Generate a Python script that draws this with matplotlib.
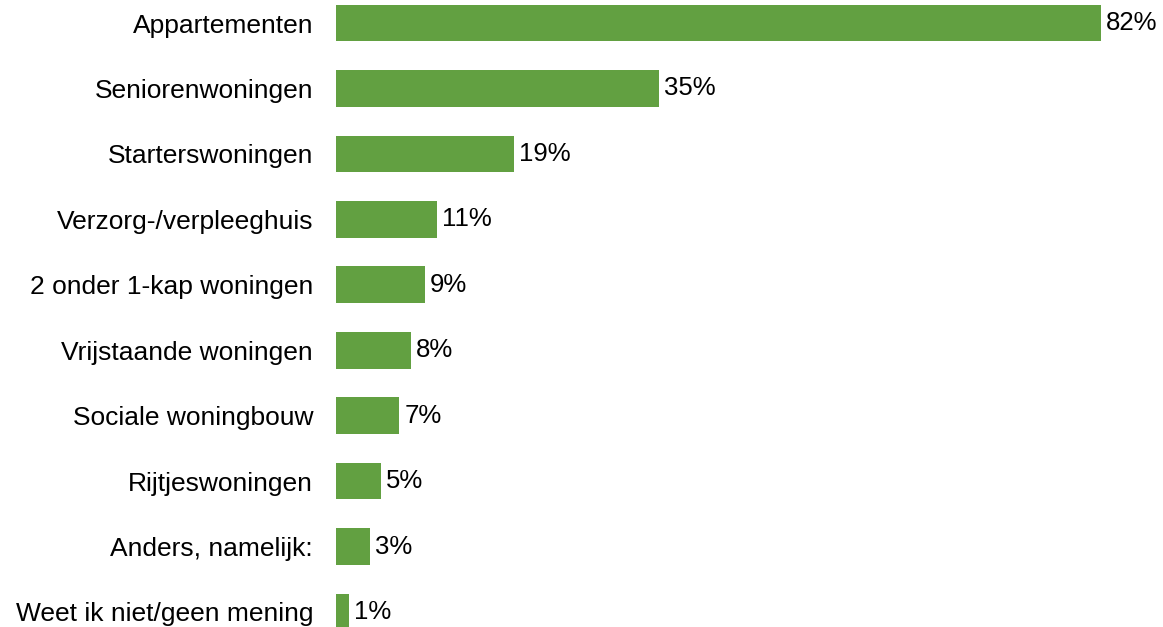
import matplotlib
matplotlib.use("Agg")
import matplotlib.pyplot as plt

# categories and percentages, top to bottom
categories = [
    "Appartementen",
    "Seniorenwoningen",
    "Starterswoningen",
    "Verzorg-/verpleeghuis",
    "2 onder 1-kap woningen",
    "Vrijstaande woningen",
    "Sociale woningbouw",
    "Rijtjeswoningen",
    "Anders, namelijk:",
    "Weet ik niet/geen mening",
]
values = [82, 35, 19, 11, 9, 8, 7, 5, 3, 1]
bar_lengths = [82, 34.6, 19.1, 10.8, 9.5, 8.0, 6.8, 4.8, 3.6, 1.4]

plt.rcParams['font.family'] = ['Liberation Sans', 'DejaVu Sans']

fig = plt.figure(figsize=(11.63, 6.27), dpi=100)
ax = fig.add_axes([336 / 1163, 0, 1 - 336 / 1163, 1])

pos = list(range(len(categories)))
ax.barh(pos, bar_lengths, height=0.56, color="#62A041")

# value labels
for p, length, v in zip(pos, bar_lengths, values):
    ax.text(length + 0.55, p, "%d%%" % v, va="center", ha="left", fontsize=18.5)

ax.set_xlim(0, 827 / 9.33)
ax.set_ylim(9 + 15 / 65.44, -23 / 65.44)
ax.set_yticks(pos)
ax.set_yticklabels(categories, fontsize=19)
ax.tick_params(axis="y", length=0, pad=16.5)
ax.set_xticks([])
for s in ax.spines.values():
    s.set_visible(False)

fig.savefig("out.png", dpi=100)
